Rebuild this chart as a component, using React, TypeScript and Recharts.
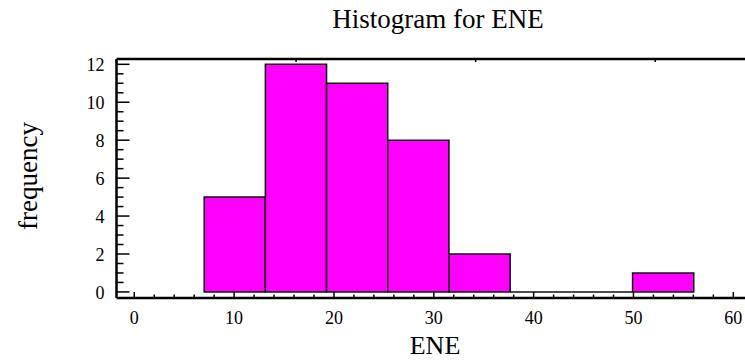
import React from 'react';
import {
    ComposedChart,
    Line,
    XAxis,
    YAxis,
    ReferenceArea,
    ReferenceLine,
} from 'recharts';

// bin edges of the histogram and the count in each bin
const binEdges = [7.0, 13.13, 19.26, 25.39, 31.52, 37.65, 43.78, 49.91, 56.04];
const counts = [5, 12, 11, 8, 2, 0, 0, 1];

// axis ticks (minor + major)
const xTicks = [0, 2, 4, 6, 8, 10, 12, 14, 16, 18, 20, 22, 24, 26, 28, 30, 32, 34, 36, 38, 40, 42, 44, 46, 48, 50, 52, 54, 56, 58, 60];
const yTicks = [0, 0.5, 1, 1.5, 2, 2.5, 3, 3.5, 4, 4.5, 5, 5.5, 6, 6.5, 7, 7.5, 8, 8.5, 9, 9.5, 10, 10.5, 11, 11.5, 12];

const title = 'Histogram for ENE';
const xLabel = 'ENE';
const yLabel = 'frequency';

const bins = counts.map((c, i) => ({
    start: binEdges[i],
    end: binEdges[i + 1],
    mid: (binEdges[i] + binEdges[i + 1]) / 2,
    count: c,
}));

const FONT = "'Liberation Serif', 'Times New Roman', serif";

const BottomTick = (props: any) => {
    const { x, y, payload } = props;
    const v = payload.value;
    const major = v % 10 === 0;
    return (
        <g>
            <line x1={x} x2={x} y1={y} y2={y - (major ? 6 : 3.5)} stroke='#000' strokeWidth={1.5} />
            {major && (
                <text x={x} y={y + 26} textAnchor='middle' fontSize={18} fontFamily={FONT} fill='#000'>
                    {v}
                </text>
            )}
        </g>
    );
};

const TopTick = (props: any) => {
    const { x, y, payload } = props;
    const major = payload.value % 10 === 0;
    return <line x1={x} x2={x} y1={y} y2={y + (major ? 5 : 3)} stroke='#000' strokeWidth={1.5} />;
};

const LeftTick = (props: any) => {
    const { x, y, payload } = props;
    const v = payload.value;
    const major = v % 2 === 0;
    return (
        <g>
            <line x1={x} x2={x + (major ? 13 : 7)} y1={y} y2={y} stroke='#000' strokeWidth={1.5} />
            {major && (
                <text x={x - 12} y={y + 7} textAnchor='end' fontSize={18} fontFamily={FONT} fill='#000'>
                    {v}
                </text>
            )}
        </g>
    );
};

const RightTick = (props: any) => {
    const { x, y, payload } = props;
    const major = payload.value % 2 === 0;
    return <line x1={x} x2={x - (major ? 6 : 3)} y1={y} y2={y} stroke='#000' strokeWidth={1.5} />;
};

const App = () => {
    return (
        <div style={{ position: 'absolute', left: 0, top: 0, width: 745, height: 360, background: '#fff' }}>
            <ComposedChart
                width={745}
                height={360}
                data={bins}
                margin={{ top: 49, right: 0, bottom: 0, left: 56.5 }}
            >
                <XAxis
                    xAxisId='b'
                    type='number'
                    dataKey='mid'
                    domain={[-1.78, 61.17]}
                    allowDataOverflow
                    ticks={xTicks}
                    interval={0}
                    tickSize={0}
                    tickMargin={0}
                    tickLine={false}
                    tick={<BottomTick />}
                    axisLine={{ stroke: '#000', strokeWidth: 2.5 }}
                    height={62}
                />
                <XAxis
                    xAxisId='t'
                    orientation='top'
                    type='number'
                    domain={[-1.78, 61.17]}
                    allowDataOverflow
                    ticks={xTicks}
                    interval={0}
                    tickSize={0}
                    tickMargin={0}
                    tickLine={false}
                    tick={<TopTick />}
                    axisLine={{ stroke: '#000', strokeWidth: 2.5 }}
                    height={10}
                />
                <YAxis
                    yAxisId='l'
                    type='number'
                    domain={[-0.32, 12.28]}
                    allowDataOverflow
                    ticks={yTicks}
                    interval={0}
                    tickSize={0}
                    tickMargin={0}
                    tickLine={false}
                    tick={<LeftTick />}
                    axisLine={{ stroke: '#000', strokeWidth: 2.5 }}
                    width={60}
                />
                <YAxis
                    yAxisId='r'
                    orientation='right'
                    type='number'
                    domain={[-0.32, 12.28]}
                    allowDataOverflow
                    ticks={yTicks}
                    interval={0}
                    tickSize={0}
                    tickMargin={0}
                    tickLine={false}
                    tick={<RightTick />}
                    axisLine={false}
                    width={0}
                />
                {bins.map((b, i) =>
                    b.count > 0 ? (
                        <ReferenceArea
                            key={i}
                            xAxisId='b'
                            yAxisId='l'
                            x1={b.start}
                            x2={b.end}
                            y1={0}
                            y2={b.count}
                            fill='#ff00ff'
                            fillOpacity={1}
                            stroke='#111'
                            strokeWidth={1.5}
                            ifOverflow='visible'
                        />
                    ) : (
                        <ReferenceLine
                            key={i}
                            xAxisId='b'
                            yAxisId='l'
                            segment={[{ x: b.start, y: 0 }, { x: b.end, y: 0 }]}
                            stroke='#111'
                            strokeWidth={1.5}
                            ifOverflow='visible'
                        />
                    )
                )}
                <Line
                    xAxisId='b'
                    yAxisId='l'
                    dataKey='count'
                    stroke='none'
                    dot={false}
                    activeDot={false}
                    isAnimationActive={false}
                />
            </ComposedChart>
            <svg
                width={745}
                height={360}
                style={{ position: 'absolute', left: 0, top: 0, pointerEvents: 'none' }}
            >
                <text x={438} y={28} textAnchor='middle' fontSize={27} fontFamily={FONT} fill='#000'>
                    {title}
                </text>
                <text x={435} y={354} textAnchor='middle' fontSize={26} fontFamily={FONT} fill='#000'>
                    {xLabel}
                </text>
                <text
                    x={37}
                    y={176}
                    textAnchor='middle'
                    fontSize={27}
                    fontFamily={FONT}
                    fill='#000'
                    transform='rotate(-90, 37, 176)'
                >
                    {yLabel}
                </text>
            </svg>
        </div>
    );
};

export default App;
